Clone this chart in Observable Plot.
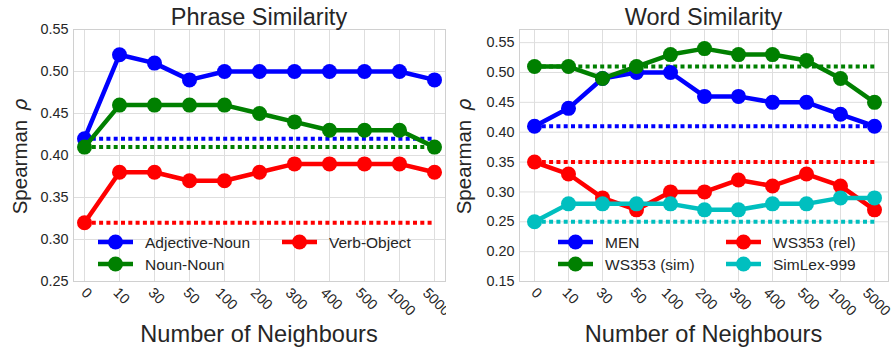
<!DOCTYPE html>
<html><head><meta charset="utf-8">
<script src="https://cdn.jsdelivr.net/npm/d3@7"></script>
<script src="https://cdn.jsdelivr.net/npm/@observablehq/plot@0.6"></script>
<style>
body{margin:0;background:#fff;}
#wrap{position:relative;width:893px;height:350px;overflow:hidden;}
.panel{position:absolute;top:0;}
</style></head><body><div id="wrap"></div>
<script>
// ---- data ----
const neighbours = ["0","10","30","50","100","200","300","400","500","1000","5000"];

const phraseTitle = "Phrase Similarity";
const phraseNames = ["Adjective-Noun","Noun-Noun","Verb-Object"];
const adjectiveNoun = [0.42,0.52,0.51,0.49,0.50,0.50,0.50,0.50,0.50,0.50,0.49];
const nounNoun      = [0.41,0.46,0.46,0.46,0.46,0.45,0.44,0.43,0.43,0.43,0.41];
const verbObject    = [0.32,0.38,0.38,0.37,0.37,0.38,0.39,0.39,0.39,0.39,0.38];
const phraseYTicks = [0.25,0.30,0.35,0.40,0.45,0.50,0.55];

const wordTitle = "Word Similarity";
const wordNames = ["MEN","WS353 (sim)","WS353 (rel)","SimLex-999"];
const men       = [0.41,0.44,0.49,0.50,0.50,0.46,0.46,0.45,0.45,0.43,0.41];
const ws353sim  = [0.51,0.51,0.49,0.51,0.53,0.54,0.53,0.53,0.52,0.49,0.45];
const ws353rel  = [0.35,0.33,0.29,0.27,0.30,0.30,0.32,0.31,0.33,0.31,0.27];
const simlex    = [0.25,0.28,0.28,0.28,0.28,0.27,0.27,0.28,0.28,0.29,0.29];
const wordYTicks = [0.15,0.20,0.25,0.30,0.35,0.40,0.45,0.50,0.55];

const xLabel = "Number of Neighbours";
const yLabelText = "Spearman";
const yLabelSym = "ρ";

// ---- drawing ----
const FONT = "'Liberation Sans', Arial, 'DejaVu Sans', sans-serif";
const TEXT = "#262626";

function panel(o) {
  const marks = [
    Plot.gridX(neighbours, {stroke:"#dedede", strokeOpacity:1, strokeWidth:1}),
    Plot.gridY(o.yTicks, {stroke:"#dedede", strokeOpacity:1, strokeWidth:1}),
    Plot.frame({stroke:"#d0d0d0", strokeWidth:1}),
    Plot.axisY(o.yTicks, {tickSize:0, tickPadding:5, tickFormat:d3.format(".2f"), fontSize:14.4, label:null, fill:TEXT})
  ];
  // rotated x tick labels, grouped by length for the vertical offset of the rotated box
  d3.groups(neighbours, d => d.length).forEach(([n, labels]) => {
    marks.push(Plot.text(labels, {x: d => d, text: d => d, frameAnchor:"bottom", rotate:45,
      textAnchor:"middle", lineAnchor:"middle", dx:2, dy:11.5 + 3 * (n - 1), fontSize:14.4, fill:TEXT}));
  });
  // baselines (value at 0 neighbours)
  o.series.forEach((vals, i) => {
    const base = neighbours.map(x => ({x, y: vals[0]}));
    marks.push(Plot.line(base, {x:"x", y:"y", stroke:o.colors[i], strokeWidth:4, strokeDasharray:"4,3.3", strokeLinecap:"butt"}));
  });
  o.series.forEach((vals, i) => {
    const rows = neighbours.map((x, j) => ({x, y: vals[j]}));
    marks.push(Plot.line(rows, {x:"x", y:"y", stroke:o.colors[i], strokeWidth:4.5}));
    marks.push(Plot.dot(rows, {x:"x", y:"y", fill:o.colors[i], r:7.5, stroke:"none"}));
  });
  const svg = Plot.plot({
    width:o.width, height:350,
    marginLeft:o.marginLeft, marginRight:o.marginRight, marginTop:29, marginBottom:69,
    style:{fontFamily:FONT, fontSize:"14px", color:TEXT, background:"white", overflow:"visible"},
    x:{type:"point", domain:neighbours, padding:0.3, label:null, axis:null},
    y:{domain:o.yDomain, label:null},
    marks
  });
  const s = d3.select(svg);
  const x0 = o.marginLeft, x1 = o.width - o.marginRight;
  const cx = (x0 + x1) / 2;
  // title
  s.append("text").attr("x", cx).attr("y", 25).attr("text-anchor","middle")
    .attr("font-family",FONT).attr("font-size",23.5).attr("fill",TEXT).text(o.title);
  // x label
  s.append("text").attr("x", cx).attr("y", 342).attr("text-anchor","middle")
    .attr("font-family",FONT).attr("font-size",23.6).attr("fill",TEXT).text(xLabel);
  // y label
  const yl = s.append("text").attr("transform",`translate(${o.yLabelX},156.5) rotate(-90)`)
    .attr("text-anchor","middle").attr("dy","0.36em")
    .attr("font-family",FONT).attr("font-size",20.5).attr("fill",TEXT);
  yl.append("tspan").text(yLabelText);
  yl.append("tspan").attr("dx", 9).attr("font-style","italic").attr("font-family","'DejaVu Sans', sans-serif")
    .attr("font-size",19).text(yLabelSym);
  // legend
  o.legend.forEach((p, i) => {
    const g = s.append("g");
    g.append("line").attr("x1",p[0]).attr("x2",p[0]+35).attr("y1",p[1]).attr("y2",p[1])
      .attr("stroke",o.colors[i]).attr("stroke-width",4.5);
    g.append("circle").attr("cx",p[0]+17.5).attr("cy",p[1]).attr("r",7.5).attr("fill",o.colors[i]);
    g.append("text").attr("x",p[0]+47).attr("y",p[1]).attr("dy","0.36em").attr("text-anchor","start")
      .attr("font-family",FONT).attr("font-size",15.5).attr("fill",TEXT).text(o.names[i]);
  });
  return svg;
}

const wrap = document.getElementById("wrap");
const left = panel({
  title: phraseTitle, names: phraseNames,
  series: [adjectiveNoun, nounNoun, verbObject],
  colors: ["#0000ff","#008000","#ff0000"],
  yDomain: [0.25, 0.55], yTicks: phraseYTicks,
  width: 446, marginLeft: 73, marginRight: 1, yLabelX: 20,
  legend: [[98,242],[98,264],[282,242]]
});
const right = panel({
  title: wordTitle, names: wordNames,
  series: [men, ws353sim, ws353rel, simlex],
  colors: ["#0000ff","#008000","#ff0000","#00bfbf"],
  yDomain: [0.15, 0.572], yTicks: wordYTicks,
  width: 447, marginLeft: 73, marginRight: 5, yLabelX: 18,
  legend: [[112,242],[112,264],[280,242],[280,264]]
});
left.classList.add("panel"); left.style.left = "0px";
right.classList.add("panel"); right.style.left = "446px";
wrap.appendChild(left);
wrap.appendChild(right);
</script></body></html>
